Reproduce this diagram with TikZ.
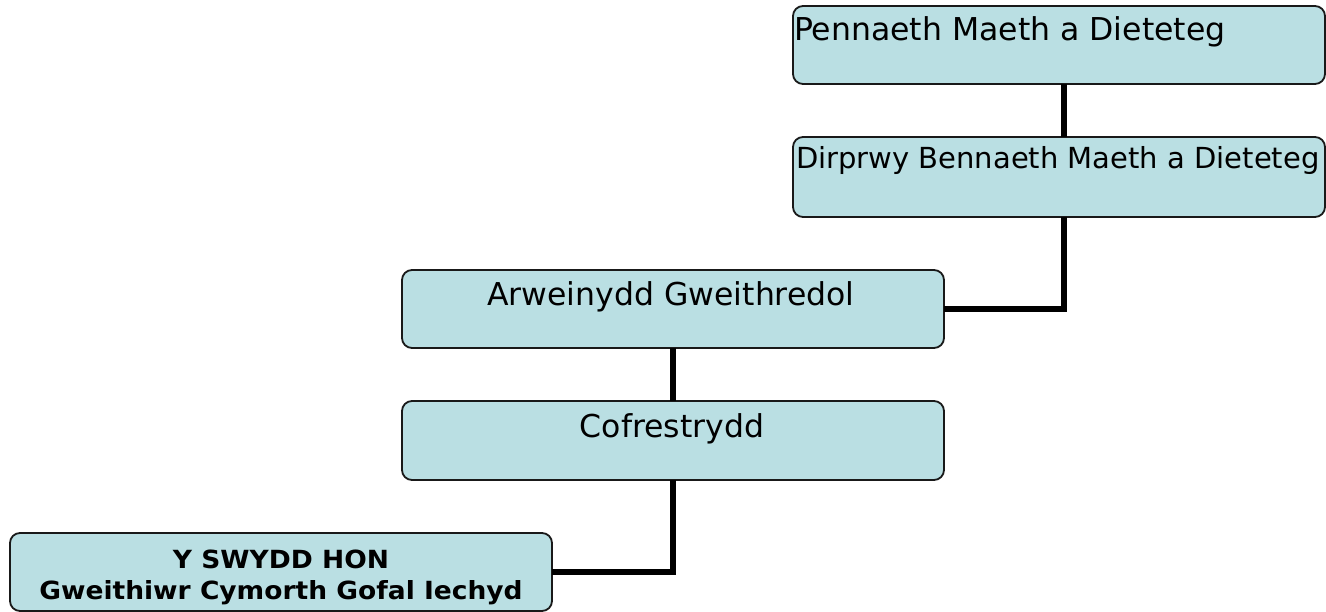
\documentclass[tikz,border=0pt]{standalone}
\usepackage{fontspec}
\setmainfont{DejaVu Sans}
\newfontfamily\boldf{DejaVu Sans Bold}[FakeStretch=1.06]
\definecolor{boxfill}{RGB}{186,223,227}
\definecolor{boxline}{RGB}{25,25,25}
\tikzset{
  box/.style={draw=boxline, fill=boxfill, line width=1.8pt, rounded corners=10pt,
              inner sep=0pt, outer sep=0pt},
  txt/.style={inner sep=0pt, outer sep=0pt, font=\fontsize{31.5}{37}\selectfont},
  btxt/.style={inner sep=0pt, outer sep=0pt, font=\boldf\fontsize{25}{30}\selectfont},
  conn/.style={line width=5.5pt, black}
}
\begin{document}
\begin{tikzpicture}[x=1pt, y=-1pt]
\useasboundingbox (0,0) rectangle (1326,612);
\clip (0,0) rectangle (1326,612);
% boxes
\node[box, minimum width=532pt, minimum height=78pt] (b1) at (1059,45) {};
\node[box, minimum width=532pt, minimum height=80pt] (b2) at (1059,177) {};
\node[box, minimum width=542pt, minimum height=78pt] (b3) at (673,309) {};
\node[box, minimum width=542pt, minimum height=79pt] (b4) at (673,440.5) {};
\node[box, minimum width=542pt, minimum height=78pt] (b5) at (281,572) {};
% connectors
\draw[conn] ([xshift=5pt]b1.south) -- ([xshift=5pt]b2.north);
\draw[conn] ([xshift=5pt]b2.south) |- (b3.east);
\draw[conn] (b3.south) -- (b4.north);
\draw[conn] (b4.south) |- (b5.east);
% texts
\node[txt, anchor=base west] (t1) at (794,41) {Pennaeth Maeth a Dieteteg};
\node[txt, anchor=base west, font=\fontsize{29}{35}\selectfont] (t2) at (796,169) {Dirprwy Bennaeth Maeth a Dieteteg};
\node[txt, anchor=base] (t3) at (671,306) {Arweinydd Gweithredol};
\node[txt, anchor=base] (t4) at (672,437) {Cofrestrydd};
\node[btxt, anchor=base] (t5a) at (281,568) {Y SWYDD HON};
\node[btxt, anchor=base] (t5b) at (281,599) {Gweithiwr Cymorth Gofal Iechyd};
\end{tikzpicture}
\end{document}
